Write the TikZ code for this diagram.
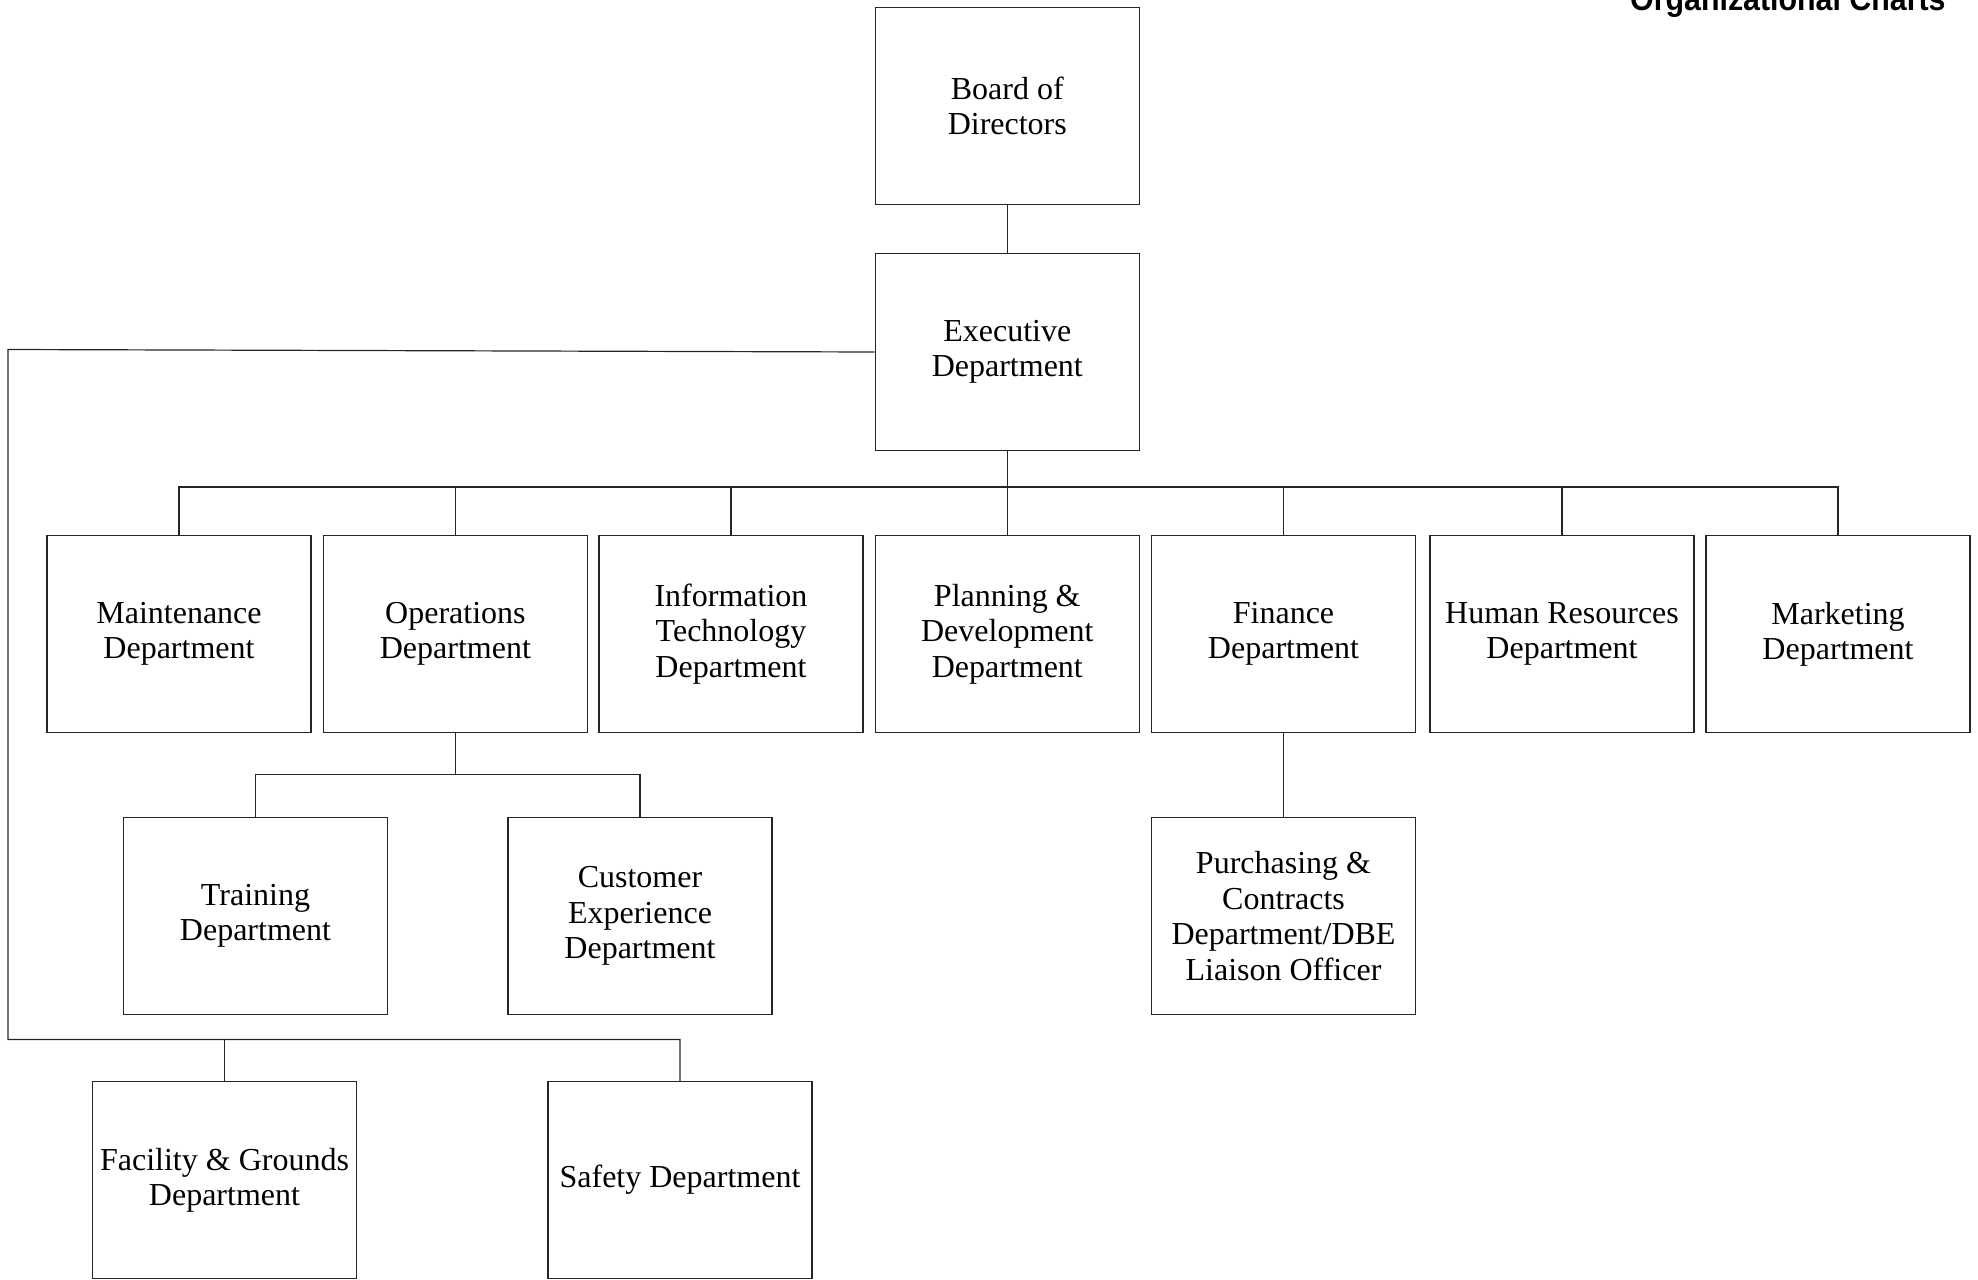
\documentclass[tikz,border=0pt]{standalone}
\usepackage{fontspec}
\setmainfont{Liberation Serif}
\newfontfamily\titlefont{Liberation Sans}
\begin{document}
\begin{tikzpicture}[x=0.5pt,y=-0.5pt,
  unit/.style={draw=black!85,line width=0.6pt,rectangle,
    minimum width=132pt,minimum height=98.5pt,inner sep=2pt,
    align=center,font=\fontsize{16pt}{17.7pt}\selectfont},
  link/.style={draw=black!85,line width=0.6pt}]
\useasboundingbox (0,0) rectangle (1978,1280);
\clip (0,0) rectangle (1978,1280);

% heading, partly above the page edge
\node[anchor=base east,inner sep=0pt,font=\titlefont\bfseries\fontsize{16.5pt}{18pt}\selectfont]
  (title) at (1946,10) {\scalebox{0.92}[1]{Organizational Charts}};

% top of the chart
\node[unit] (board) at (1007.3,106) {Board of\\Directors};
\node[unit] (exec)  at (1007.3,352) {Executive\\Department};

% departments reporting to the executive
\node[unit] (maint) at (179,634)    {Maintenance\\Department};
\node[unit] (ops)   at (455.4,634)  {Operations\\Department};
\node[unit] (it)    at (731,634)    {Information\\Technology\\Department};
\node[unit] (plan)  at (1007.3,634) {Planning \&\\Development\\Department};
\node[unit] (fin)   at (1283.5,634) {Finance\\Department};
\node[unit] (hr)    at (1562,634)   {Human Resources\\Department};
\node[unit] (mkt)   at (1838,634)   {Marketing\\Department};

% second level
\node[unit] (train) at (255.5,916)  {Training\\Department};
\node[unit] (cust)  at (640,916)    {Customer\\Experience\\Department};
\node[unit] (purch) at (1283.5,916) {Purchasing \&\\Contracts\\Department/DBE\\Liaison Officer};

% units on the side branch
\node[unit] (fac)   at (224.5,1180) {Facility \& Grounds\\Department};
\node[unit] (safe)  at (680,1180)   {Safety Department};

% bus lines
\coordinate (bus)    at (1007.3,487);
\coordinate (opsbus) at (455.4,774.6);
\coordinate (sidetop) at (8,349.5);
\coordinate (sidebot) at (8,1039.5);

\draw[link] (board) -- (exec);

\draw[link] (exec.south) -- (bus);
\draw[link] (maint.north) -- (maint.north |- bus) -- (mkt.north |- bus) -- (mkt.north);
\foreach \n in {ops,it,plan,fin,hr}
  \draw[link] (\n.north) -- (\n.north |- bus);

\draw[link] (ops.south) -- (opsbus);
\draw[link] (train.north) -- (train.north |- opsbus) -- (cust.north |- opsbus) -- (cust.north);

\draw[link] (fin.south) -- (purch.north);

\draw[link] (exec.west) -- (sidetop) -- (sidebot) -- (safe.north |- sidebot) -- (safe.north);
\draw[link] (fac.north) -- (fac.north |- sidebot);
\end{tikzpicture}
\end{document}
